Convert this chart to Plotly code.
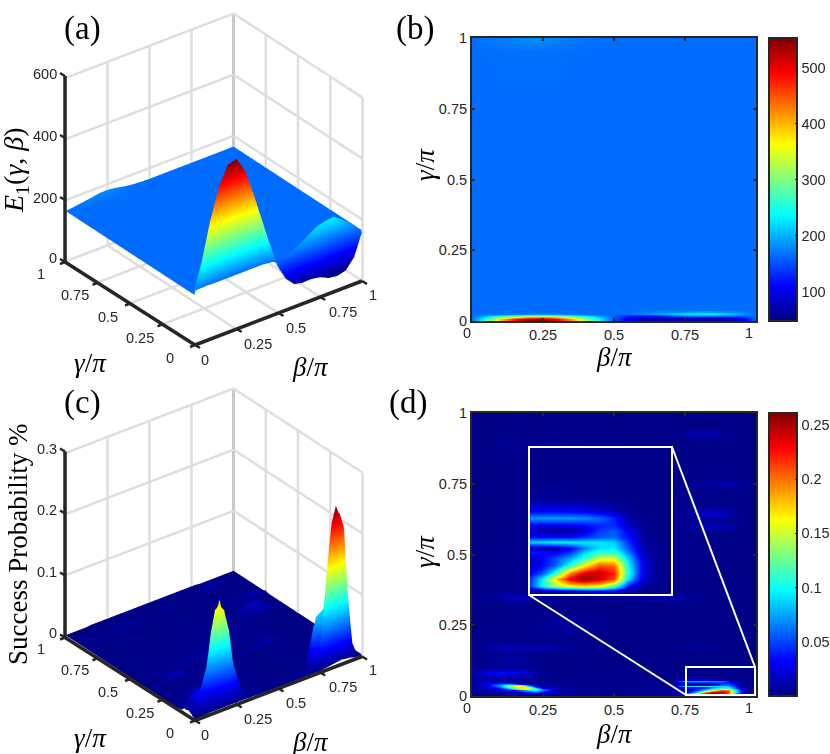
import numpy as np
import plotly.graph_objects as go

W, H = 830, 754
TICKS = [0, 0.25, 0.5, 0.75, 1]
TICK_TEXT = ["0", "0.25", "0.5", "0.75", "1"]

JET = [[0, "#00007f"], [0.125, "#0000ff"], [0.375, "#00ffff"],
       [0.625, "#ffff00"], [0.875, "#ff0000"], [1, "#7f0000"]]

# ---- panel (a)/(b): E1(gamma, beta)
e_beta = [0, .05, .1, .15, .2, .25, .3, .35, .4, .45, .5, .55, .6, .65, .7, .75, .8, .85, .9, .95, 1]
e_gamma = [0, .008, .014, .02, .026, .032, .04, .06, .1, .25, .5, .75, .95, .98, 1]
e_values = np.array([
    [165, 270, 395, 495, 550, 558, 510, 425, 330, 235, 150, 105, 80, 72, 70, 65, 52, 48, 55, 88, 165],
    [165, 262, 385, 480, 530, 540, 492, 410, 318, 228, 152, 100, 72, 66, 68, 68, 60, 58, 66, 95, 165],
    [165, 225, 300, 365, 410, 420, 390, 335, 270, 210, 158, 115, 92, 92, 105, 118, 118, 112, 120, 135, 165],
    [165, 185, 205, 225, 240, 245, 235, 215, 195, 178, 160, 140, 132, 145, 170, 190, 198, 195, 185, 172, 165],
    [165, 168, 172, 178, 182, 184, 182, 176, 170, 166, 163, 165, 175, 190, 208, 225, 232, 235, 215, 190, 165],
    [165, 165, 166, 165, 165, 165, 165, 165, 165, 165, 165, 165, 170, 178, 185, 192, 197, 195, 185, 175, 165],
    [165, 165, 165, 165, 165, 165, 165, 165, 165, 165, 165, 165, 166, 167, 168, 168, 168, 168, 167, 166, 165],
    [165, 165, 164, 164, 164, 164, 165, 165, 165, 165, 165, 165, 165, 165, 165, 165, 165, 165, 165, 165, 165],
    [165, 165, 165, 165, 165, 165, 165, 165, 165, 165, 165, 165, 165, 165, 165, 165, 165, 165, 165, 165, 165],
    [165, 165, 165, 165, 165, 165, 165, 165, 165, 165, 165, 165, 165, 165, 165, 165, 165, 165, 165, 165, 165],
    [165, 165, 165, 165, 165, 165, 165, 165, 165, 165, 165, 165, 165, 165, 165, 165, 165, 165, 165, 165, 165],
    [165, 165, 165, 165, 165, 165, 165, 165, 165, 165, 165, 165, 165, 165, 165, 165, 165, 165, 165, 165, 165],
    [165, 165, 166, 166, 166, 166, 166, 165, 165, 165, 165, 165, 165, 165, 165, 165, 165, 165, 165, 165, 165],
    [165, 168, 171, 174, 176, 175, 172, 169, 167, 166, 165, 165, 165, 165, 165, 165, 165, 165, 165, 165, 165],
    [165, 168, 172, 176, 181, 182, 178, 172, 168, 166, 165, 165, 165, 165, 165, 165, 165, 165, 165, 165, 165],
])

# ---- panel (c)/(d): success probability (values in thousandths)
p_beta = [0, .05, .1, .125, .15, .175, .2, .225, .25, .3, .4, .5, .6, .7, .75, .775, .8, .825, .85, .875, .9, .925, .95, .975, 1]
p_gamma = [0, .003, .006, .011, .015, .02, .025, .029, .032, .036, .039, .044, .047, .052, .057, .065, .08, .1,
           .13, .15, .17, .19, .25, .33, .35, .37, .45, .52, .58, .6, .62, .64, .68, .73, .75, .77, .82, .9, .93, .95, 1]
p_values = np.array([
    [2, 2, 3, 3, 3, 3, 3, 3, 3, 3, 2, 2, 2, 2, 2, 3, 4, 5, 6, 7, 6, 5, 3, 2, 1],
    [3, 4, 5, 6, 7, 8, 8, 8, 7, 5, 3, 3, 3, 4, 4, 6, 10, 16, 24, 28, 22, 8, 4, 2, 1],
    [4, 5, 7, 8, 10, 12, 14, 14, 12, 8, 4, 4, 5, 8, 30, 95, 135, 160, 170, 165, 120, 35, 8, 3, 2],
    [5, 6, 9, 12, 16, 20, 25, 28, 22, 10, 5, 4, 6, 10, 30, 90, 170, 235, 260, 240, 210, 90, 20, 5, 2],
    [5, 8, 12, 16, 22, 30, 40, 50, 35, 12, 5, 4, 6, 8, 20, 50, 105, 195, 235, 245, 220, 105, 25, 6, 2],
    [6, 10, 16, 25, 40, 65, 90, 100, 60, 14, 5, 4, 5, 7, 12, 28, 55, 105, 160, 205, 200, 100, 25, 6, 2],
    [7, 12, 25, 50, 90, 130, 150, 120, 60, 12, 5, 4, 5, 6, 15, 30, 50, 75, 105, 150, 150, 85, 20, 5, 2],
    [7, 15, 40, 85, 135, 165, 155, 90, 30, 8, 4, 4, 4, 5, 40, 35, 28, 45, 85, 110, 110, 65, 15, 4, 2],
    [8, 18, 55, 110, 155, 175, 130, 55, 20, 7, 4, 3, 4, 5, 15, 12, 12, 30, 65, 90, 95, 55, 12, 4, 2],
    [8, 22, 70, 125, 160, 165, 95, 30, 12, 6, 4, 3, 4, 5, 85, 90, 95, 95, 92, 92, 85, 45, 10, 3, 2],
    [9, 25, 70, 115, 130, 110, 50, 15, 8, 5, 3, 3, 4, 5, 35, 35, 35, 35, 45, 55, 60, 35, 8, 3, 2],
    [10, 25, 60, 75, 60, 30, 14, 8, 5, 4, 3, 3, 4, 4, 20, 10, 6, 8, 20, 45, 55, 28, 6, 3, 2],
    [10, 25, 40, 35, 22, 12, 8, 6, 5, 4, 3, 3, 3, 4, 30, 30, 30, 30, 35, 42, 42, 18, 5, 3, 2],
    [10, 20, 15, 10, 8, 7, 6, 5, 5, 4, 3, 3, 3, 4, 70, 72, 72, 72, 68, 60, 42, 12, 4, 2, 2],
    [9, 12, 8, 6, 5, 5, 5, 4, 4, 4, 3, 3, 3, 3, 30, 32, 32, 30, 28, 22, 14, 5, 3, 2, 2],
    [8, 8, 6, 5, 5, 5, 5, 4, 4, 3, 3, 3, 3, 3, 6, 6, 6, 5, 5, 4, 3, 3, 2, 2, 2],
    [10, 28, 32, 32, 30, 28, 22, 10, 5, 3, 3, 3, 3, 3, 3, 3, 3, 3, 3, 3, 3, 2, 2, 2, 2],
    [4, 6, 8, 8, 8, 7, 6, 4, 3, 2, 2, 2, 2, 2, 2, 2, 2, 2, 2, 2, 2, 2, 2, 2, 2],
    [3, 4, 6, 8, 10, 8, 6, 4, 3, 3, 2, 2, 2, 2, 2, 2, 2, 2, 2, 2, 2, 2, 2, 2, 2],
    [2, 3, 3, 4, 4, 4, 3, 3, 3, 2, 2, 2, 2, 2, 2, 2, 2, 2, 2, 2, 2, 2, 2, 2, 2],
    [3, 8, 14, 16, 14, 12, 10, 12, 14, 8, 4, 2, 2, 2, 6, 7, 6, 5, 4, 4, 3, 2, 2, 2, 2],
    [2, 3, 4, 4, 4, 4, 3, 3, 3, 3, 2, 2, 2, 2, 2, 2, 2, 2, 2, 2, 2, 2, 2, 2, 2],
    [2, 3, 3, 3, 4, 4, 4, 5, 6, 8, 6, 3, 2, 2, 3, 3, 4, 3, 3, 3, 2, 2, 2, 2, 2],
    [2, 2, 2, 3, 3, 3, 3, 2, 2, 2, 2, 2, 2, 3, 2, 2, 2, 2, 2, 2, 2, 2, 2, 2, 2],
    [3, 5, 10, 16, 18, 16, 12, 10, 8, 6, 4, 5, 9, 13, 8, 6, 5, 4, 3, 3, 2, 2, 2, 2, 2],
    [2, 2, 3, 4, 4, 4, 3, 3, 2, 2, 2, 2, 3, 3, 3, 2, 2, 2, 2, 2, 2, 2, 2, 2, 2],
    [2, 3, 4, 4, 4, 4, 5, 6, 6, 6, 10, 8, 6, 4, 3, 3, 3, 2, 2, 2, 2, 2, 2, 2, 2],
    [2, 2, 3, 3, 3, 4, 4, 4, 4, 4, 4, 5, 5, 5, 4, 3, 3, 3, 3, 2, 2, 2, 2, 2, 2],
    [2, 2, 2, 3, 3, 3, 3, 3, 3, 3, 4, 4, 4, 4, 3, 3, 3, 3, 3, 3, 3, 2, 2, 2, 2],
    [2, 2, 2, 3, 3, 3, 3, 3, 4, 4, 5, 6, 6, 5, 6, 8, 12, 15, 15, 14, 12, 8, 4, 3, 2],
    [2, 2, 2, 2, 2, 2, 3, 3, 3, 3, 3, 3, 3, 3, 3, 3, 3, 3, 3, 3, 3, 3, 2, 2, 2],
    [2, 2, 2, 2, 3, 3, 3, 3, 3, 3, 4, 4, 4, 4, 7, 10, 18, 20, 20, 18, 12, 6, 3, 2, 2],
    [2, 2, 2, 2, 2, 3, 3, 3, 3, 3, 3, 3, 3, 3, 3, 3, 3, 3, 3, 3, 3, 3, 2, 2, 2],
    [2, 2, 2, 2, 2, 2, 3, 3, 3, 3, 3, 3, 3, 3, 3, 3, 3, 3, 3, 3, 3, 3, 3, 2, 2],
    [2, 2, 2, 2, 2, 2, 2, 3, 3, 3, 3, 3, 4, 4, 5, 8, 10, 10, 10, 12, 12, 10, 8, 6, 4],
    [2, 2, 2, 2, 2, 2, 2, 2, 2, 2, 2, 2, 2, 2, 2, 2, 3, 3, 3, 3, 3, 3, 3, 2, 2],
    [2, 2, 2, 2, 2, 2, 2, 2, 2, 2, 2, 2, 2, 3, 3, 3, 3, 3, 3, 3, 3, 3, 3, 3, 2],
    [2, 3, 4, 5, 5, 5, 5, 6, 6, 6, 5, 4, 3, 2, 2, 2, 2, 2, 2, 2, 2, 2, 2, 2, 2],
    [2, 2, 2, 2, 2, 2, 3, 3, 3, 3, 3, 3, 3, 4, 7, 11, 12, 12, 10, 7, 5, 4, 3, 2, 2],
    [2, 2, 2, 2, 2, 2, 2, 2, 2, 2, 2, 2, 2, 2, 2, 2, 2, 2, 2, 2, 2, 2, 2, 2, 2],
    [2, 2, 2, 2, 3, 3, 3, 3, 3, 3, 3, 3, 3, 3, 3, 3, 2, 2, 2, 2, 2, 2, 2, 2, 2],
]) / 1000

E_RANGE = [48, 553]
P_RANGE = [0, 0.261]
E_COLORBAR_TICKS = [100, 200, 300, 400, 500]
P_COLORBAR_TICKS = [0.05, 0.1, 0.15, 0.2, 0.25]
E_Z_TICKS = [0, 200, 400, 600]
P_Z_TICKS = [0, 0.1, 0.2, 0.3]

INK = "#262626"
SANS = "Liberation Sans"
SERIF = "Liberation Serif"
CUBE = 1.18


def fx(px):
    return px / W


def fy(py):
    return 1 - py / H


def axis3d(rng):
    return dict(range=rng, autorange=False, title=dict(text=""), showline=False, ticks="",
                showticklabels=False, showgrid=False, showbackground=False,
                zeroline=False, showspikes=False)


def scene(dom_y, zr):
    R = 1.68
    return dict(domain=dict(x=[0, fx(428)], y=dom_y),
                xaxis=axis3d([0, 1]), yaxis=axis3d([0, 1]), zaxis=axis3d(zr),
                aspectmode="manual", aspectratio=dict(x=CUBE, y=CUBE, z=CUBE),
                bgcolor="rgba(0,0,0,0)",
                camera=dict(projection=dict(type="orthographic"),
                            center=dict(x=0, y=0, z=0), up=dict(x=0, y=0, z=1),
                            eye=dict(x=-0.527 * R, y=-0.687 * R, z=0.5 * R)))


def polyline(segments, sc, color, width):
    xs, ys, zs = [], [], []
    for a, b in segments:
        xs += [a[0], b[0], None]
        ys += [a[1], b[1], None]
        zs += [a[2], b[2], None]
    return go.Scatter3d(x=xs, y=ys, z=zs, mode="lines", scene=sc, hoverinfo="skip", showlegend=False,
                        line=dict(color=color, width=width), connectgaps=False)


def frame(sc, zticks):
    top = zticks[-1]
    grid = []
    for t in TICKS:
        grid.append(((t, 1, 0), (t, 1, top)))
        grid.append(((1, t, 0), (1, t, top)))
        grid.append(((t, 0, 0), (t, 1, 0)))
        grid.append(((0, t, 0), (1, t, 0)))
    for z in zticks[1:]:
        grid.append(((0, 1, z), (1, 1, z)))
        grid.append(((1, 0, z), (1, 1, z)))
    return [
        polyline(grid, sc, "rgb(222,222,222)", 5),
        polyline([((1, 1, 0), (1, 1, zticks[-1]))], sc, "rgb(200,200,200)", 6),
    ]


FLAT = dict(ambient=1, diffuse=0, specular=0, fresnel=0, roughness=1)

fig = go.Figure()
for tr in frame("scene", E_Z_TICKS) + frame("scene2", P_Z_TICKS):
    fig.add_trace(tr)
fig.add_trace(go.Surface(x=e_beta, y=e_gamma, z=e_values, colorscale=JET, cmin=E_RANGE[0], cmax=E_RANGE[1],
                         showscale=False, lighting=FLAT, scene="scene", hoverinfo="skip"))
fig.add_trace(go.Surface(x=p_beta, y=p_gamma, z=p_values, colorscale=JET, cmin=P_RANGE[0], cmax=P_RANGE[1],
                         showscale=False, lighting=FLAT, scene="scene2", hoverinfo="skip"))


def cbar(top, vals, text):
    return dict(x=fx(769), xanchor="left", xpad=0, ypad=0, y=fy(top), yanchor="top",
                lenmode="pixels", len=283, thicknessmode="pixels", thickness=28,
                tickmode="array", tickvals=vals, ticktext=text, ticks="inside", ticklen=3,
                tickcolor=INK, tickfont=dict(family=SANS, size=14.5, color=INK),
                outlinewidth=2, outlinecolor=INK)


fig.add_trace(go.Heatmap(x=e_beta, y=e_gamma, z=e_values, colorscale=JET, zmin=E_RANGE[0], zmax=E_RANGE[1],
                         zsmooth="best", xaxis="x", yaxis="y",
                         colorbar=cbar(38, E_COLORBAR_TICKS, [str(v) for v in E_COLORBAR_TICKS])))
fig.add_trace(go.Heatmap(x=p_beta, y=p_gamma, z=p_values, colorscale=JET, zmin=P_RANGE[0], zmax=P_RANGE[1],
                         zsmooth="best", xaxis="x2", yaxis="y2",
                         colorbar=cbar(413, P_COLORBAR_TICKS, [str(v) for v in P_COLORBAR_TICKS])))
fig.add_trace(go.Heatmap(x=p_beta, y=p_gamma, z=p_values, colorscale=JET, zmin=P_RANGE[0], zmax=P_RANGE[1],
                         zsmooth="best", xaxis="x3", yaxis="y3", showscale=False))


def axis2d(dom, anchor, xticks):
    return dict(domain=dom, anchor=anchor, range=[0, 1], autorange=False, tickmode="array",
                tickvals=xticks, ticktext=[TICK_TEXT[TICKS.index(v)] for v in xticks],
                ticks="inside", ticklen=3, tickcolor=INK, tickwidth=1.5,
                showline=True, linewidth=2, linecolor=INK, mirror="allticks", showgrid=False, zeroline=False,
                tickfont=dict(family=SANS, size=14.5, color=INK))


inner = [0.25, 0.5, 0.75]
layout = dict(
    width=W, height=H, margin=dict(l=0, r=0, t=0, b=0, autoexpand=False),
    paper_bgcolor="white", plot_bgcolor="white", showlegend=False,
    scene=scene([fy(359), fy(0)], [0, 600]),
    scene2=scene([fy(733.5), fy(374.5)], [0, 0.3]),
    xaxis=axis2d([fx(472), fx(756)], "y", inner),
    yaxis=axis2d([fy(321), fy(38)], "x", TICKS),
    xaxis2=axis2d([fx(472), fx(756)], "y2", inner),
    yaxis2=axis2d([fy(696), fy(413)], "x2", TICKS),
    xaxis3=dict(domain=[fx(529), fx(672)], anchor="y3", range=[0.755, 1], showticklabels=False, ticks="",
                showgrid=False, zeroline=False),
    yaxis3=dict(domain=[fy(595), fy(447)], anchor="x3", range=[0, 0.1], showticklabels=False, ticks="",
                showgrid=False, zeroline=False),
)


def seg(x0, y0, x1, y1, color="white", width=2):
    return dict(type="line", xref="paper", yref="paper", x0=fx(x0), y0=fy(y0), x1=fx(x1), y1=fy(y1),
                line=dict(color=color, width=width))


def box(x0, y0, x1, y1):
    return dict(type="rect", xref="paper", yref="paper", x0=fx(x0), y0=fy(y0), x1=fx(x1), y1=fy(y1),
                line=dict(color="white", width=2), fillcolor="rgba(0,0,0,0)")


shapes = [box(529, 447, 672, 595), box(686, 667, 755, 695),
          seg(529, 595, 686, 695), seg(672, 447, 755, 667)]

# dark front axes of the 3-D panels, drawn above the surfaces
for dy in (0, 375.5):
    zx, ztop, zbot = 65, 76 + dy, 262 + dy
    nx, ny = 195, 345 + dy
    rx, ry = 362, 281 + dy
    shapes += [seg(zx, ztop, zx, zbot, INK, 3.5), seg(zx, zbot, nx, ny, INK, 3.5), seg(nx, ny, rx, ry, INK, 3.5)]
    for f in TICKS:
        bx, by = nx + (rx - nx) * f, ny + (ry - ny) * f
        gx, gy = nx + (zx - nx) * f, ny + (zbot - ny) * f
        shapes.append(seg(bx, by, bx + 5, by + 3, INK, 2.5))
        shapes.append(seg(gx, gy, gx - 5, gy + 2, INK, 2.5))
    for f in (0, 1 / 3, 2 / 3, 1):
        yy = zbot + (ztop - zbot) * f
        shapes.append(seg(zx, yy, zx - 5, yy - 3, INK, 2.5))
layout["shapes"] = shapes


def note(px, py, text, size, family=SERIF, angle=0, color="black", anchor="center"):
    return dict(xref="paper", yref="paper", x=fx(px), y=fy(py), text=text, showarrow=False,
                xanchor=anchor, yanchor="middle", textangle=angle,
                font=dict(family=family, size=size, color=color))


def tick(px, py, text, anchor="center"):
    return note(px, py, text, 14.5, SANS, color=INK, anchor=anchor)


GAM = "<i>γ</i>/<i>π</i>"
BET = "<i>β</i>/<i>π</i>"
notes = [
    note(82, 28, "(a)", 33), note(415, 28, "(b)", 33), note(82, 403, "(c)", 33), note(408, 403, "(d)", 33),
    note(90, 363, GAM, 27), note(310, 367, BET, 27), note(90, 738, GAM, 27), note(310, 742, BET, 27),
    note(16, 170, "<i>E</i><sub>1</sub>(<i>γ</i>, <i>β</i>)", 28, angle=-90),
    note(18, 545, "Success Probability %", 27, angle=-90),
    note(614, 357, BET, 27), note(614, 734, BET, 27),
    note(425, 165, GAM, 27, angle=-90), note(425, 552, GAM, 27, angle=-90),
    tick(467, 333, "0"), tick(749, 333, "1"), tick(467, 708, "0"), tick(749, 708, "1"),
]
for dy, zpos, ztxt in [(0, [258, 198, 136, 74], E_Z_TICKS), (375, [633, 572, 510, 449], P_Z_TICKS)]:
    for yy, v in zip(zpos, ztxt):
        notes.append(tick(59, yy, str(v), anchor="right"))
    for (xx, yy), t in zip([(170, 358), (140, 338), (108, 317), (75, 295), (41, 274)], TICK_TEXT):
        notes.append(tick(xx, yy + dy, t))
    for (xx, yy), t in zip([(205, 360), (258, 344), (296, 328), (343, 312), (373, 295)], TICK_TEXT):
        notes.append(tick(xx, yy + dy, t))
layout["annotations"] = notes
fig.update_layout(**layout)
fig.write_html("out.html", post_script="document.body.style.margin='0';",
               config={"displayModeBar": False})
